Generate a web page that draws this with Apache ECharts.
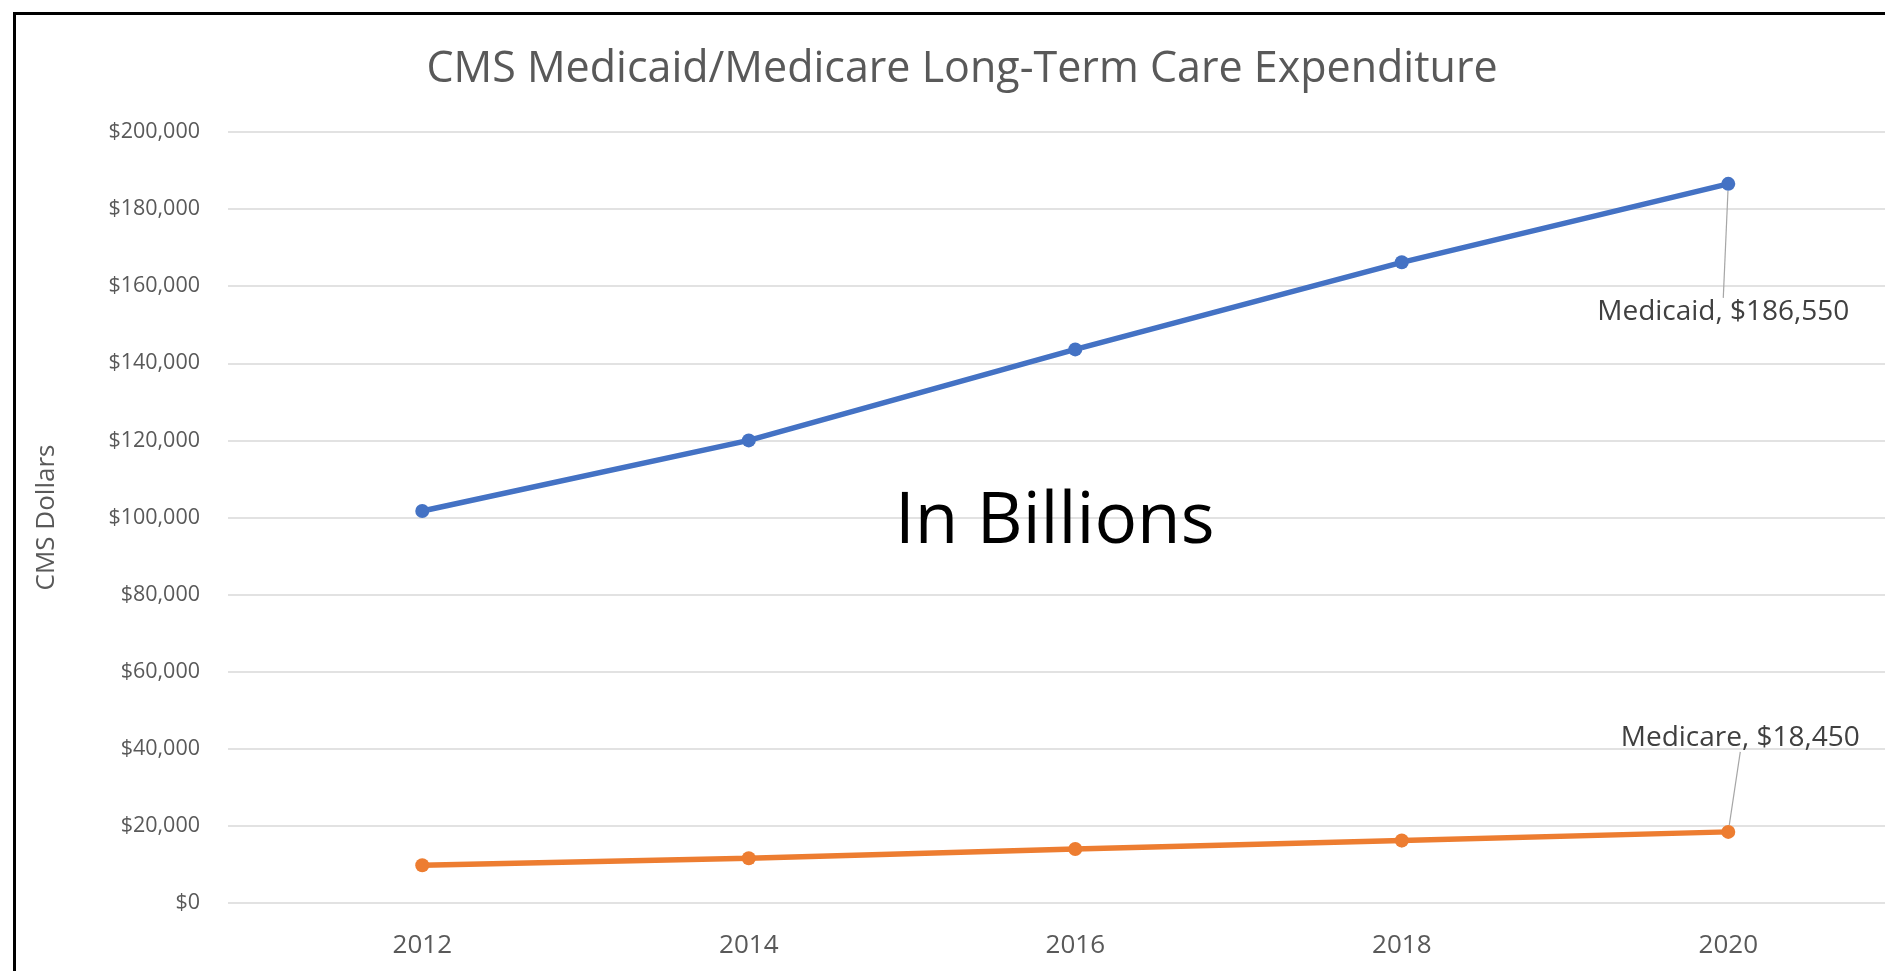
<!DOCTYPE html>
<html>
<head>
<meta charset="utf-8">
<style>
html,body{margin:0;padding:0;background:#fff;}
#frame{position:absolute;left:13px;top:12px;width:1900px;height:1000px;border:3px solid #000;box-sizing:border-box;}
#chart{position:absolute;left:0;top:0;width:1885px;height:971px;}
</style>
<script src="https://cdn.jsdelivr.net/npm/echarts@6/dist/echarts.min.js"></script>
</head>
<body>
<div id="frame"></div>
<div id="chart"></div>
<script>
const years = [2012, 2014, 2016, 2018, 2020];
const medicaid = [101700, 120000, 143600, 166200, 186550];
const medicare = [9800, 11600, 14000, 16200, 18450];
const yTicks = [0, 20000, 40000, 60000, 80000, 100000, 120000, 140000, 160000, 180000, 200000];

const FONT = '"Open Sans", "Noto Sans", sans-serif';
const fmtMoney = v => '$' + v.toLocaleString('en-US');

function pairs(vals) { return years.map((y, i) => [y, vals[i]]); }

const chart = echarts.init(document.getElementById('chart'), null, {renderer: 'canvas'});
const lastIdx = years.length - 1;

function seriesDef(name, vals, color, dx, dy) {
  return {
    name: name,
    type: 'line',
    data: pairs(vals),
    symbol: 'circle',
    symbolSize: 14,
    lineStyle: {color: color, width: 5.5},
    itemStyle: {color: color},
    label: {
      show: true,
      position: 'inside',
      fontFamily: FONT,
      fontSize: 28,
      color: '#404040',
      formatter: p => p.dataIndex === lastIdx ? name + ', ' + fmtMoney(p.value[1]) : ''
    },
    labelLine: {show: true, lineStyle: {color: '#a6a6a6', width: 1.2}},
    labelLayout: p => p.dataIndex === lastIdx ? {dx: dx, dy: dy} : {},
    z: 3
  };
}

chart.setOption({
  animation: false,
  title: {
    text: 'CMS Medicaid/Medicare Long-Term Care Expenditure',
    left: 962,
    top: 48,
    padding: 0,
    textAlign: 'center',
    textStyle: {fontFamily: FONT, fontSize: 43, fontWeight: 'normal', color: '#595959'}
  },
  grid: {left: 228, right: 0, top: 132, bottom: 68, containLabel: false},
  xAxis: {
    type: 'value',
    min: 2010.81,
    max: 2020.96,
    splitLine: {show: false},
    axisLine: {show: false},
    axisTick: {show: false},
    axisLabel: {
      customValues: years,
      margin: 30,
      fontFamily: FONT,
      fontSize: 26,
      color: '#595959',
      formatter: v => String(v)
    }
  },
  yAxis: {
    type: 'value',
    min: 0,
    max: 200000,
    interval: 20000,
    name: 'CMS Dollars',
    nameLocation: 'middle',
    nameGap: 168,
    nameTextStyle: {fontFamily: FONT, fontSize: 26, color: '#595959'},
    axisLine: {show: false},
    axisTick: {show: false},
    splitLine: {lineStyle: {color: '#d9d9d9', width: 1.5}},
    axisLabel: {
      margin: 28,
      fontFamily: FONT,
      fontSize: 21.5,
      color: '#595959',
      formatter: v => fmtMoney(v)
    }
  },
  graphic: [{
    type: 'text',
    left: 1055 - 160,
    top: 519 - 32,
    z: 10,
    style: {text: 'In Billions', font: '71px ' + FONT, fill: '#000'}
  }],
  series: [
    seriesDef('Medicaid', medicaid, '#4472C4', -5, 128),
    seriesDef('Medicare', medicare, '#ED7D31', 12, -94)
  ]
});
</script>
</body>
</html>
